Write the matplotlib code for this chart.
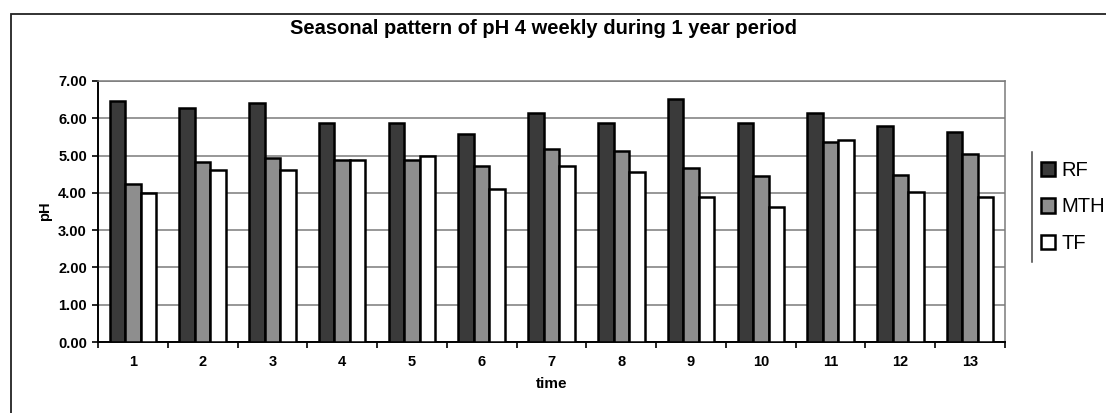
import matplotlib
matplotlib.use("Agg")
import matplotlib.pyplot as plt
import numpy as np
from matplotlib.patches import Rectangle, Patch
from matplotlib.lines import Line2D

plt.rcParams["font.family"] = ["Liberation Sans", "DejaVu Sans"]

# data
periods = [str(i) for i in range(1, 14)]
rf = [6.46, 6.27, 6.42, 5.88, 5.87, 5.59, 6.14, 5.87, 6.52, 5.87, 6.15, 5.80, 5.62]
mth = [4.25, 4.83, 4.93, 4.89, 4.89, 4.72, 5.17, 5.12, 4.68, 4.44, 5.37, 4.49, 5.03]
tf = [4.00, 4.60, 4.60, 4.87, 4.99, 4.11, 4.71, 4.56, 3.90, 3.62, 5.43, 4.01, 3.89]
series = ["RF", "MTH", "TF"]
colors = ["#3a3a3a", "#8e8e8e", "#ffffff"]

fig = plt.figure(figsize=(11.06, 4.13), dpi=100)
ax = fig.add_axes([98 / 1106, 1 - 342 / 413, 907 / 1106, 261 / 413])

# outer chart frame
fig.patches.append(Rectangle((11 / 1106, -0.1), 1.2, 1 - 14 / 413 + 0.1,
                             transform=fig.transFigure, fill=False,
                             edgecolor="#222222", lw=1.3))

x = np.arange(len(periods))
w = 0.222
for i, (vals, c) in enumerate(zip([rf, mth, tf], colors)):
    ax.bar(x + (i - 1) * w, vals, w, color=c, edgecolor="black", lw=1.8,
           zorder=3, label=series[i])

ax.set_xlim(-0.5, len(periods) - 0.5)
ax.set_ylim(0, 7)
ax.set_yticks(np.arange(0, 7.01, 1))
ax.set_yticklabels([f"{v:.2f}" for v in np.arange(0, 7.01, 1)])
ax.set_xticks(x)
ax.set_xticklabels(periods)
ax.set_xticks(np.arange(-0.5, len(periods)), minor=True)
ax.tick_params(axis="x", which="major", length=0, pad=9)
ax.tick_params(axis="x", which="minor", length=4, width=1.2, direction="out")
ax.tick_params(axis="y", length=4, width=1.2, direction="out", pad=4)
for lab in ax.get_xticklabels() + ax.get_yticklabels():
    lab.set_fontsize(10.5)
    lab.set_fontweight("bold")

ax.grid(axis="y", color="#7a7a7a", lw=1.1, zorder=0)
ax.set_axisbelow(True)
for s in ["top", "right"]:
    ax.spines[s].set_color("#7a7a7a")
    ax.spines[s].set_linewidth(1.1)
for s in ["left", "bottom"]:
    ax.spines[s].set_color("black")
    ax.spines[s].set_linewidth(1.4)

ax.set_xlabel("time", fontsize=11, fontweight="bold", labelpad=6)
ax.set_ylabel("pH", fontsize=10.5, fontweight="bold", labelpad=4)

fig.text(543 / 1106, 1 - 28 / 413,
         "Seasonal pattern of pH 4 weekly during 1 year period",
         ha="center", va="center", fontsize=14.5, fontweight="bold")

handles = [Patch(facecolor=c, edgecolor="black", lw=1.8) for c in colors]
leg = fig.legend(handles, series, loc="center left",
                 bbox_to_anchor=(1041 / 1106, 1 - 207 / 413), frameon=False,
                 handlelength=0.7, handleheight=0.7, handletextpad=0.3,
                 labelspacing=0.85, borderaxespad=0, borderpad=0,
                 prop={"size": 14.5})
fig.lines.append(Line2D([1032 / 1106] * 2, [1 - 152 / 413, 1 - 262 / 413],
                        transform=fig.transFigure, color="#444444", lw=1.1))

fig.savefig("out.png", dpi=100)
